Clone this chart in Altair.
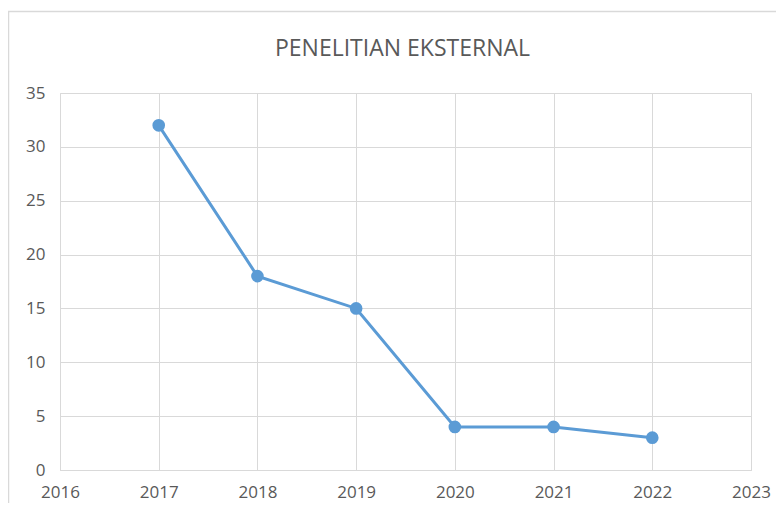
import altair as alt
import pandas as pd

years = [2017, 2018, 2019, 2020, 2021, 2022]
values = [32, 18, 15, 4, 4, 3]
x_ticks = [2016, 2017, 2018, 2019, 2020, 2021, 2022, 2023]
y_ticks = [0, 5, 10, 15, 20, 25, 30, 35]
title_text = "PENELITIAN EKSTERNAL"

df = pd.DataFrame({"year": years, "value": values})

W, H = 691, 377
FONT = "Open Sans"
GRID = "#D9D9D9"
TXT = "#595959"
BLUE = "#5B9BD5"

frame = alt.Chart(pd.DataFrame({"a": [0]})).mark_rect(
    fillOpacity=0, stroke=GRID, strokeWidth=1.5
).encode(
    x=alt.value(-51.5), x2=alt.value(W + 60),
    y=alt.value(-81.5), y2=alt.value(H + 60),
)

x_enc = alt.X("year:Q", scale=alt.Scale(domain=[2016, 2023], nice=False, zero=False),
              axis=alt.Axis(values=x_ticks, format="d", title=None, grid=True,
                            gridColor=GRID, domain=True, domainColor=GRID, ticks=False,
                            labelFont=FONT, labelFontSize=17, labelColor=TXT,
                            labelPadding=14, labelFlush=False))
y_enc = alt.Y("value:Q", scale=alt.Scale(domain=[0, 35], nice=False),
              axis=alt.Axis(values=y_ticks, title=None, grid=True, gridColor=GRID,
                            domain=False, ticks=False, labelFont=FONT, labelFontSize=17,
                            labelColor=TXT, labelPadding=15))

line = alt.Chart(df).mark_line(color=BLUE, strokeWidth=3).encode(x=x_enc, y=y_enc)
pts = alt.Chart(df).mark_circle(color=BLUE, size=160, opacity=1).encode(x=x_enc, y=y_enc)

title = alt.Chart(pd.DataFrame({"t": [title_text]})).mark_text(
    font=FONT, fontSize=23, color=TXT, align="center", baseline="middle"
).encode(text="t:N", x=alt.value(W / 2 - 3), y=alt.value(-44))

chart = alt.layer(frame, line, pts, title).properties(
    width=W, height=H,
    autosize=alt.AutoSizeParams(type="none"),
    padding={"left": 52, "top": 85, "right": 25, "bottom": 33},
).configure_view(stroke=None).configure(background="white")

chart.save("out.html", embed_options={"renderer": "svg", "actions": False})
